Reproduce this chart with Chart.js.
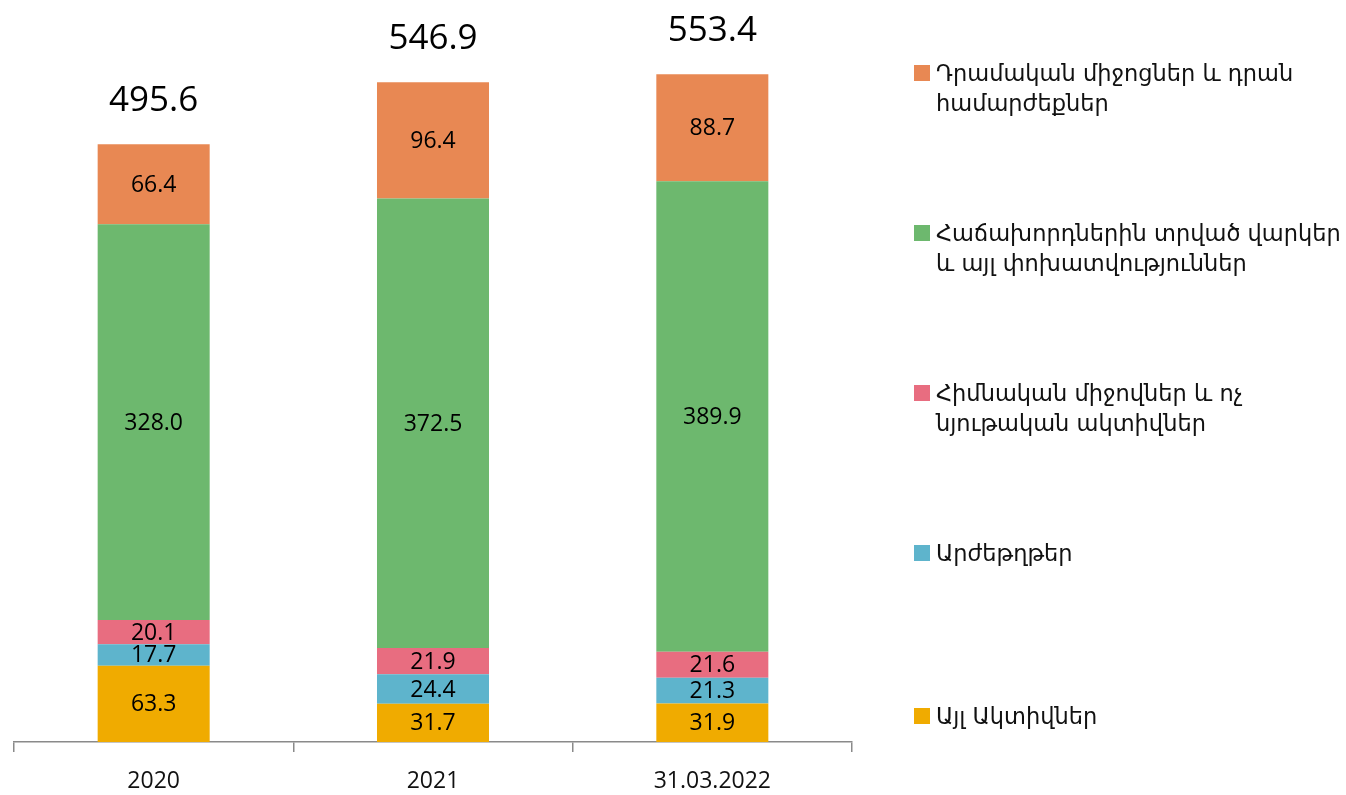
<!DOCTYPE html>
<html lang="hy">
<head>
<meta charset="UTF-8">
<title>Ակտիվներ</title>
<script src="https://cdn.jsdelivr.net/npm/chart.js"></script>
<style>
  html, body { margin: 0; padding: 0; background: #fff; overflow: hidden; }
  #wrap { position: relative; width: 1346px; height: 795px; }
  #legend { position: absolute; left: 914px; top: 0; font-family: "DejaVu Sans", sans-serif; font-size: 22.5px; color: #111; }
  .item { position: absolute; left: 0; white-space: nowrap; line-height: 30px; }
  .box { position: absolute; left: 0; top: 7px; width: 16px; height: 16px; }
  .txt { position: absolute; left: 22px; top: 0; }
</style>
</head>
<body>
<div id="wrap">
  <canvas id="chart" width="1346" height="795"></canvas>
  <div id="legend"></div>
</div>
<script>
// categories and series, bottom of stack first
const categories = ['2020', '2021', '31.03.2022'];
const seriesNames = [
  ['Այլ Ակտիվներ'],
  ['Արժեթղթեր'],
  ['Հիմնական միջովներ  և ոչ', 'նյութական ակտիվներ'],
  ['Հաճախորդներին  տրված վարկեր', 'և այլ փոխատվություններ'],
  ['Դրամական միջոցներ  և դրան', 'համարժեքներ']
];
const otherAssets = [63.3, 31.7, 31.9];
const securities = [17.7, 24.4, 21.3];
const fixedAssets = [20.1, 21.9, 21.6];
const loans = [328.0, 372.5, 389.9];
const cash = [66.4, 96.4, 88.7];
const totals = [495.6, 546.9, 553.4];

const colors = ['#F0AB00', '#5EB4CC', '#E86D80', '#6DB86E', '#E88853'];
const values = [otherAssets, securities, fixedAssets, loans, cash];

// legend on the right, top entry is the top of the stack
const legendTops = [716, 553, 393, 233, 73];
const legend = document.getElementById('legend');
seriesNames.forEach((lines, i) => {
  const item = document.createElement('div');
  item.className = 'item';
  item.style.top = (legendTops[i] - 15) + 'px';
  item.innerHTML = '<div class="box" style="background:' + colors[i] + '"></div>' +
    '<div class="txt">' + lines.join('<br>') + '</div>';
  legend.appendChild(item);
});

// labels in the middle of each segment and totals above each bar
const labelsPlugin = {
  id: 'segLabels',
  afterDatasetsDraw(chart) {
    const ctx = chart.ctx;
    ctx.save();
    ctx.fillStyle = '#000';
    ctx.textAlign = 'center';
    ctx.textBaseline = 'middle';
    ctx.font = '23px "Open Sans", sans-serif';
    chart.data.datasets.forEach((ds, di) => {
      const meta = chart.getDatasetMeta(di);
      meta.data.forEach((bar, j) => {
        const y = (bar.y + bar.base) / 2;
        ctx.fillText(ds.data[j].toFixed(1), bar.x, y + 1);
      });
    });
    ctx.font = '35px "Open Sans", sans-serif';
    ctx.textBaseline = 'alphabetic';
    const top = chart.getDatasetMeta(chart.data.datasets.length - 1);
    top.data.forEach((bar, j) => {
      ctx.fillText(totals[j].toFixed(1), bar.x, bar.y - 33);
    });
    ctx.restore();
  }
};

new Chart(document.getElementById('chart'), {
  type: 'bar',
  data: {
    labels: categories,
    datasets: values.map((v, i) => ({
      label: seriesNames[i].join(' '),
      data: v,
      backgroundColor: colors[i],
      borderWidth: 0,
      categoryPercentage: 1,
      barPercentage: 0.401
    }))
  },
  options: {
    responsive: false,
    animation: false,
    layout: { padding: { left: 14, right: 494, top: 0, bottom: 0 } },
    plugins: { legend: { display: false }, tooltip: { enabled: false } },
    scales: {
      x: {
        stacked: true,
        offset: true,
        grid: {
          offset: true,
          drawOnChartArea: false,
          tickLength: 10,
          color: '#8a8a8a',
          lineWidth: 1.5
        },
        border: { color: '#8a8a8a', width: 1.5 },
        ticks: {
          padding: 16,
          color: '#111',
          font: { family: '"Open Sans", sans-serif', size: 23 }
        },
        afterFit(scale) { scale.height = 53; }
      },
      y: {
        stacked: true,
        display: false,
        min: 0,
        max: 615
      }
    }
  },
  plugins: [labelsPlugin]
});
</script>
</body>
</html>
